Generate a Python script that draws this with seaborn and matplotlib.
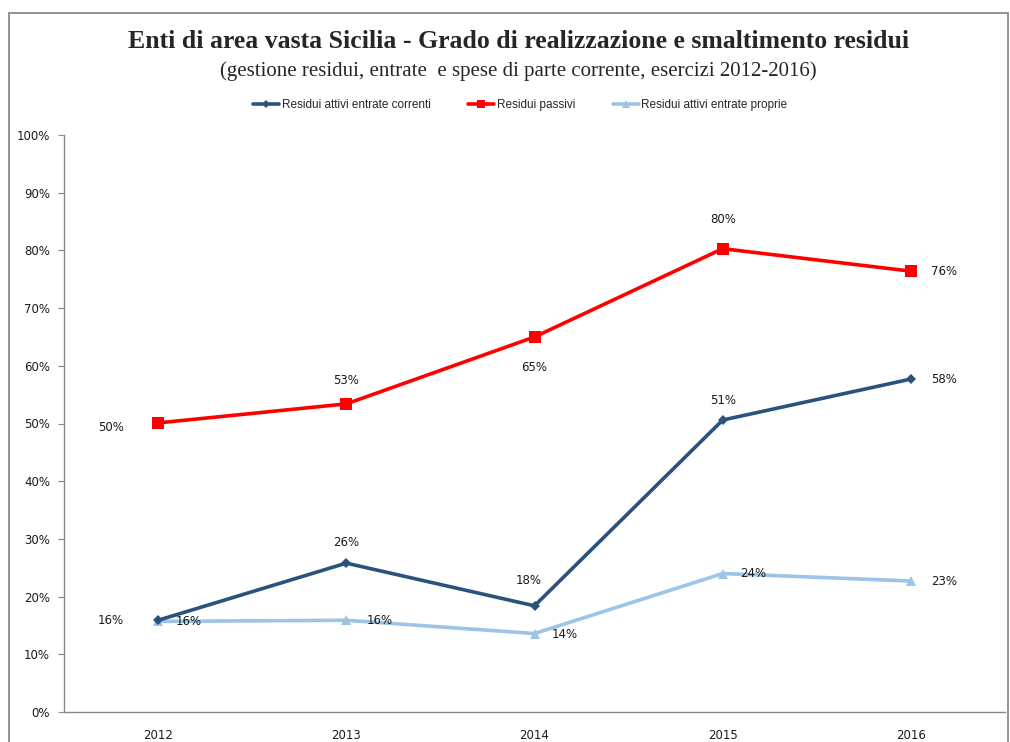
import matplotlib
matplotlib.use("Agg")
import matplotlib.pyplot as plt
import matplotlib.ticker as mticker
from matplotlib.patches import Rectangle
import pandas as pd
import seaborn as sns

years = ["2012", "2013", "2014", "2015", "2016"]
correnti = [15.9, 25.8, 18.4, 50.6, 57.7]
passivi = [50.1, 53.4, 65.0, 80.3, 76.4]
proprie = [15.7, 15.9, 13.6, 24.0, 22.7]

series_names = ["Residui attivi entrate correnti", "Residui passivi", "Residui attivi entrate proprie"]
colors = ["#2B527D", "#FF0000", "#9DC3E6"]
markers = ["D", "s", "^"]
marker_sizes = [5, 8, 7]

# label placement per point: (dx, dy) in points
offsets = [
    [(-34, 0), (0, 14.5), (-4, 18), (0, 14), (24, 0)],
    [(-34, -3), (0, 17), (0, -22), (0, 21), (24, 0)],
    [(22, 0), (24, 0), (22, -1), (22, 0), (24, 0)],
]

df = pd.DataFrame({
    "anno": years * 3,
    "valore": correnti + passivi + proprie,
    "serie": [series_names[0]] * 5 + [series_names[1]] * 5 + [series_names[2]] * 5,
})
df["x"] = df["anno"].map({y: i for i, y in enumerate(years)})

sns.set_theme(style="white")
plt.rcParams["font.family"] = ["DejaVu Sans"]

fig = plt.figure(figsize=(10.10, 7.42), dpi=100)
ax = fig.add_axes([64 / 1010, 1 - 712 / 742, (1005 - 64) / 1010, (712 - 135) / 742])

zorders = [4, 5, 3]
for i, name in enumerate(series_names):
    sub = df[df["serie"] == name]
    sns.lineplot(data=sub, x="x", y="valore", ax=ax, color=colors[i], lw=2.6,
                 marker=markers[i], markersize=marker_sizes[i], markeredgewidth=0,
                 label=name, zorder=zorders[i])
    for j, (xv, yv) in enumerate(zip(sub["x"], sub["valore"])):
        dx, dy = offsets[i][j]
        ax.annotate(f"{round(yv):d}%", (xv, yv), xytext=(dx, dy), textcoords="offset points",
                    ha="center", va="center", fontsize=8.5, color="#1a1a1a")

ax.set_xlim(-0.5, 4.5)
ax.set_ylim(0, 100)
ax.set_xticks(range(len(years)))
ax.set_xticklabels(years)
ax.yaxis.set_major_locator(mticker.MultipleLocator(10))
ax.yaxis.set_major_formatter(mticker.FuncFormatter(lambda v, p: f"{int(v)}%"))
ax.set_xlabel("")
ax.set_ylabel("")
ax.tick_params(axis="y", which="major", length=4, width=0.8, color="#888888",
               labelsize=8.5, pad=6, left=True)
ax.tick_params(axis="x", length=0, labelsize=8.5, pad=12)
for lbl in ax.get_yticklabels() + ax.get_xticklabels():
    lbl.set_color("#1a1a1a")
for s in ["top", "right"]:
    ax.spines[s].set_visible(False)
for s in ["left", "bottom"]:
    ax.spines[s].set_color("#888888")
    ax.spines[s].set_linewidth(1.0)
ax.grid(False)

leg = ax.legend(loc="center", bbox_to_anchor=(0.515, 1 - 105 / 742), bbox_transform=fig.transFigure,
                ncol=3, frameon=False, fontsize=8.5, handlelength=2.2, columnspacing=3.2,
                handletextpad=0.2, borderaxespad=0, markerscale=0.8)
for t in leg.get_texts():
    t.set_family(["Liberation Sans Narrow", "Liberation Sans", "DejaVu Sans"])

fig.text(0.513, 1 - 41 / 742, "Enti di area vasta Sicilia - Grado di realizzazione e smaltimento residui",
         ha="center", va="center", fontsize=18.5, fontweight="bold", family=["Liberation Serif"])
fig.text(0.513, 1 - 71 / 742, "(gestione residui, entrate  e spese di parte corrente, esercizi 2012-2016)",
         ha="center", va="center", fontsize=15, family=["Liberation Serif"])

# chart frame
fig.patches.append(Rectangle((9 / 1010, -0.02), (1008 - 9) / 1010, 1 - 13 / 742 + 0.02,
                             transform=fig.transFigure, fill=False, edgecolor="#808080", lw=1.2))

fig.savefig("out.png", dpi=100)
